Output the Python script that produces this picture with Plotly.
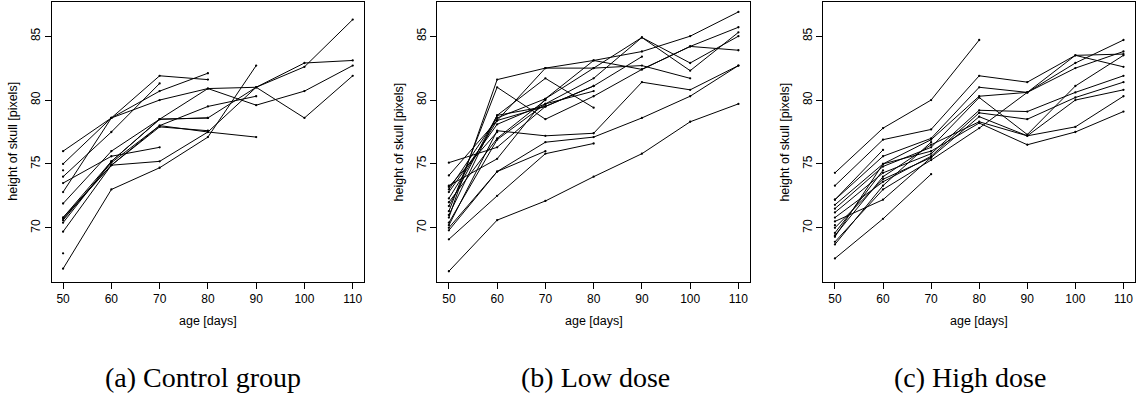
import plotly.graph_objects as go

W, H = 1141, 401

ages = [50, 60, 70, 80, 90, 100, 110]
x_ticks = [50, 60, 70, 80, 90, 100, 110]
y_ticks = [70, 75, 80, 85]

control = [
    [76.0, 78.6, 81.9, 81.6],
    [75.0, 78.6, 80.7, 82.1],
    [74.5],
    [74.0, 77.5, 81.3],
    [73.5, 75.6, 76.3],
    [72.8, 78.6, 80.0, 80.9, 79.6, 80.7, 82.7],
    [71.9, 76.0, 78.5, 78.6, 81.0, 82.9, 83.1],
    [70.8, 75.2, 78.5, 80.9, 81.0, 78.6, 81.9],
    [70.8, 74.9, 78.0, 79.5, 80.3],
    [70.7, 74.9, 75.2, 77.5, 77.1],
    [70.6, 75.1, 78.0, 77.5, 81.0, 82.6, 86.3],
    [70.4, 75.2, 78.5, 78.6],
    [69.7, 74.9, 77.9, 77.6],
    [68.0],
    [66.8, 73.0, 74.7, 77.1, 82.7],
]

low_dose = [
    [66.6, 70.6, 72.1, 74.0, 75.8, 78.3, 79.7],
    [69.1, 72.5, 75.8, 76.6],
    [69.8, 74.4, 76.7, 77.1, 78.6, 80.3, 82.7],
    [70.2, 77.6, 77.2, 77.4, 81.4, 80.8, 82.7],
    [70.4, 76.9, 79.7, 80.7],
    [70.8, 81.6, 82.5, 82.5, 84.9, 82.3, 85.3],
    [71.3, 81.0, 78.5, 80.3, 82.4, 84.2, 83.9],
    [71.7, 78.8, 81.7, 79.4],
    [72.3, 78.4, 79.5, 81.1, 83.4],
    [72.8, 78.1, 79.7, 81.7, 84.9, 82.9, 85.0],
    [73.0, 78.6, 80.1, 82.5, 82.7, 81.7],
    [73.3, 75.4, 80.1, 83.1, 83.8, 85.0, 86.9],
    [74.1, 78.4, 82.5, 83.1, 82.4, 84.2, 85.7],
    [75.1, 76.3, 79.5, 81.1],
    [71.0, 78.8, 79.5],
    [70.0, 74.4, 76.0],
    [72.0, 77.0, 80.0],
    [73.2, 77.5],
]

high_dose = [
    [74.3, 77.8, 80.0, 84.7],
    [73.3, 76.9, 77.7, 81.9, 81.4, 83.5, 82.6],
    [72.2, 75.6, 77.0, 81.0, 80.6, 82.9, 84.7],
    [71.8, 75.0, 76.9, 80.3, 80.6, 82.5, 83.8],
    [71.5, 74.8, 76.3, 80.2, 77.3, 81.1, 83.5],
    [71.2, 74.3, 75.8, 79.2, 79.1, 80.6, 81.9],
    [70.8, 73.6, 75.6, 79.0, 78.5, 80.2, 81.4],
    [70.5, 72.2, 75.5, 78.7, 77.2, 77.9, 80.3],
    [69.4, 74.0, 76.5, 78.3, 77.2, 80.0, 80.8],
    [69.3, 75.0, 76.0, 78.2, 76.5, 77.5, 79.1],
    [68.9, 73.0, 75.3, 77.8, 80.6, 83.5, 83.6],
    [70.0, 73.8, 75.5],
    [69.6, 74.5],
    [70.2],
    [72.2, 76.1],
    [67.6, 70.7, 74.2],
    [68.7, 73.3, 76.7],
]

captions = ["(a) Control group", "(b) Low dose", "(c) High dose"]
groups = [control, low_dose, high_dose]

# panel boxes in pixels (left, right), shared top/bottom
boxes = [(51.5, 364.3), (437.3, 750.0), (823.4, 1135.0)]
caption_x = [202.5, 595.0, 970.0]
top_px, bot_px = 1.7, 281.7

fig = go.Figure()
for i, (grp, (l, r)) in enumerate(zip(groups, boxes)):
    ax = "" if i == 0 else str(i + 1)
    for rat in grp:
        fig.add_trace(go.Scatter(
            x=ages[:len(rat)], y=rat, mode="lines+markers",
            line=dict(color="black", width=1),
            marker=dict(color="black", size=2.3),
            xaxis="x" + ax, yaxis="y" + ax, showlegend=False,
            hoverinfo="skip"))
    common = dict(showline=True, linecolor="black", linewidth=1, mirror=True,
                  ticks="outside", ticklen=6, tickwidth=1, tickcolor="black",
                  showgrid=False, zeroline=False,
                  tickfont=dict(family="Liberation Sans, Arial", size=12, color="black"))
    fig.layout["xaxis" + ax] = dict(
        domain=[l / W, r / W], range=[47.6, 112.4], tickvals=x_ticks,
        anchor="y" + ax, **common)
    fig.layout["yaxis" + ax] = dict(
        domain=[(H - bot_px) / H, (H - top_px) / H], range=[65.78, 87.7],
        tickvals=y_ticks, tickangle=-90, anchor="x" + ax, **common)
    # axis titles
    fig.add_annotation(text="age [days]", xref="paper", yref="paper",
                       x=(l + r) / 2 / W, y=(H - 320.7) / H, showarrow=False,
                       xanchor="center", yanchor="middle",
                       font=dict(family="Liberation Sans, Arial", size=12.5, color="black"))
    fig.add_annotation(text="height of skull [pixels]", xref="paper", yref="paper",
                       x=(l - 38.5) / W, y=(H - (top_px + bot_px) / 2) / H,
                       showarrow=False, textangle=-90,
                       xanchor="center", yanchor="middle",
                       font=dict(family="Liberation Sans, Arial", size=12.5, color="black"))
    fig.add_annotation(text=captions[i], xref="paper", yref="paper",
                       x=caption_x[i] / W, y=(H - 377) / H, showarrow=False,
                       xanchor="center", yanchor="middle",
                       font=dict(family="Liberation Serif, Times New Roman, serif", size=28, color="black"))

fig.update_layout(width=W, height=H, margin=dict(l=0, r=0, t=0, b=0),
                  plot_bgcolor="white", paper_bgcolor="white")
fig.write_html("out.html")
